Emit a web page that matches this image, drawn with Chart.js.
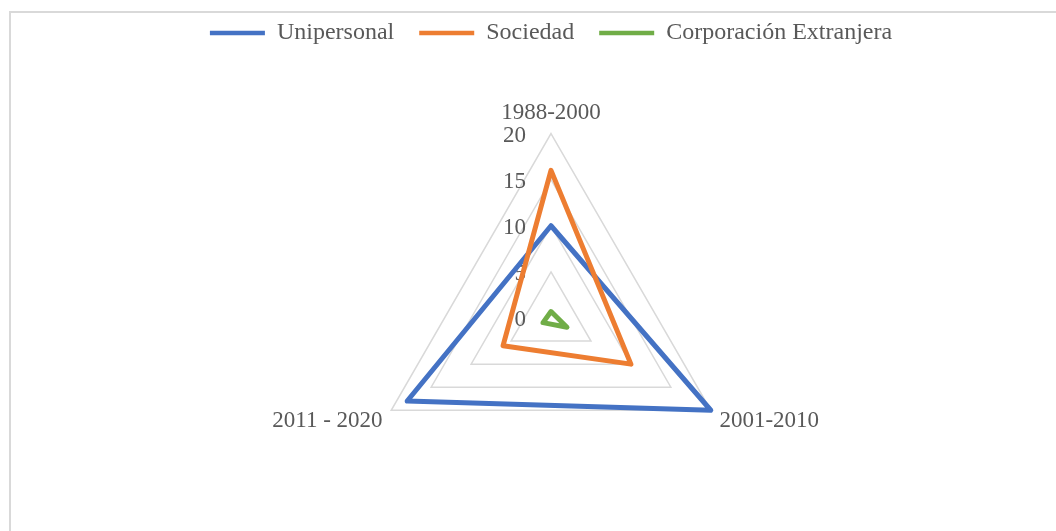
<!DOCTYPE html>
<html lang="es">
<head>
<meta charset="UTF-8" />
<title>Tipos de empresa por periodo</title>
<script src="https://cdn.jsdelivr.net/npm/chart.js"></script>
<style>
  html, body { margin: 0; overflow: hidden; background: #fff; }
  .marco { position: absolute; left: 9px; top: 11px; width: 1200px; height: 700px; border-left: 2px solid #d9d9d9; border-top: 2px solid #d9d9d9; }
  .caja { position: absolute; left: 0; top: 0; width: 1056px; height: 531px; }
</style>
</head>
<body>
<div class="marco"></div>
<div class="caja"><canvas id="radar"></canvas></div>
<script>
// periodos (ejes del radar)
const periodos = ['1988-2000', '2001-2010', '2011 - 2020'];

// valores por tipo de empresa
const unipersonal = [10, 20, 18];
const sociedad = [16, 10, 6];
const corporacionExtranjera = [0.7, 2, 1];

// marcas del eje
const marcasEje = [0, 5, 10, 15, 20];

const gris = '#595959';
const fuente = '"Liberation Serif", "Times New Roman", serif';

// etiquetas del eje a la izquierda, como en Excel
const etiquetasEje = {
  id: 'etiquetasEje',
  beforeInit(chart) {
    const fitOriginal = chart.legend.fit;
    chart.legend.fit = function () {
      fitOriginal.call(this);
      this.height = 98;
    };
  },
  beforeDatasetsDraw(chart) {
    const escala = chart.scales.r;
    const ctx = chart.ctx;
    ctx.save();
    ctx.font = '23px ' + fuente;
    ctx.fillStyle = gris;
    ctx.textAlign = 'right';
    ctx.textBaseline = 'middle';
    marcasEje.forEach((v) => {
      const d = escala.getDistanceFromCenterForValue(v);
      ctx.fillText(String(v), escala.xCenter - 25, escala.yCenter - d + 2);
    });
    ctx.restore();
  }
};

function serie(nombre, datos, color, orden) {
  return {
    label: nombre,
    data: datos,
    borderColor: color,
    backgroundColor: color,
    pointBorderColor: color,
    pointBorderWidth: 4.5,
    pointRadius: 0,
    pointHoverRadius: 0,
    borderWidth: 5,
    borderJoinStyle: 'round',
    fill: false,
    order: orden
  };
}

const grafico = document.getElementById('radar');
new Chart(grafico, {
  type: 'radar',
  data: {
    labels: periodos,
    datasets: [
      serie('Unipersonal', unipersonal, '#4472C4', 2),
      serie('Sociedad', sociedad, '#ED7D31', 1),
      serie('Corporación Extranjera', corporacionExtranjera, '#70AD47', 0)
    ]
  },
  options: {
    responsive: true,
    maintainAspectRatio: false,
    animation: false,
    layout: { padding: { left: 46, right: 0, top: -4, bottom: 14 } },
    plugins: {
      tooltip: { enabled: false },
      legend: {
        position: 'top',
        labels: {
          usePointStyle: true,
          pointStyle: 'line',
          pointStyleWidth: 55,
          padding: 25,
          color: gris,
          font: { family: fuente, size: 24 },
          sort: (a, b) => a.datasetIndex - b.datasetIndex
        }
      }
    },
    scales: {
      r: {
        min: 0,
        max: 20,
        beginAtZero: true,
        angleLines: { display: false },
        grid: { color: '#d9d9d9', lineWidth: 1.5 },
        ticks: { display: false, stepSize: 5 },
        pointLabels: {
          color: gris,
          font: { family: fuente, size: 23, lineHeight: 0.5 },
          padding: (ctx) => (ctx.index === 0 ? 15 : 10)
        }
      }
    }
  },
  plugins: [etiquetasEje]
});
</script>
</body>
</html>
